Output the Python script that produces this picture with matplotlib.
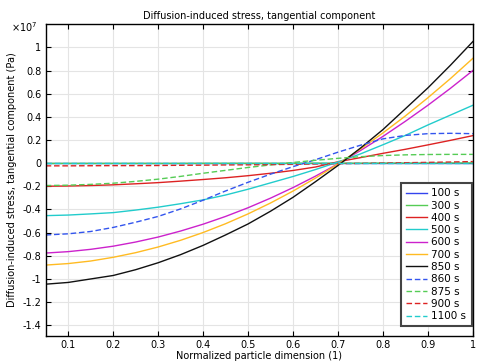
import matplotlib
matplotlib.use("Agg")
import matplotlib.pyplot as plt
from matplotlib.ticker import FuncFormatter

plt.rcParams['font.family'] = 'DejaVu Sans'
plt.rcParams['axes.unicode_minus'] = False

# normalized particle dimension
x = [0.05, 0.1, 0.15, 0.2, 0.25, 0.3, 0.35, 0.4, 0.45, 0.5,
     0.55, 0.6, 0.65, 0.7, 0.75, 0.8, 0.85, 0.9, 0.95, 1.0]

# tangential stress, units of 1e7 Pa
s100 = [0.0] * 20
s300 = [-0.002, -0.002, -0.002, -0.002, -0.002, -0.002, -0.002, -0.001, -0.001, -0.001,
        -0.001, -0.001, 0.0, 0.0, 0.0, 0.001, 0.001, 0.001, 0.002, 0.002]
s400 = [-0.199, -0.197, -0.193, -0.187, -0.178, -0.168, -0.155, -0.141, -0.126, -0.108,
        -0.087, -0.063, -0.033, 0.012, 0.048, 0.085, 0.12, 0.158, 0.197, 0.238]
s500 = [-0.453, -0.448, -0.438, -0.427, -0.405, -0.38, -0.35, -0.317, -0.275, -0.225,
        -0.17, -0.115, -0.055, 0.01, 0.08, 0.159, 0.24, 0.33, 0.415, 0.50]
s600 = [-0.776, -0.764, -0.744, -0.717, -0.681, -0.638, -0.586, -0.527, -0.460, -0.385,
        -0.302, -0.211, -0.112, -0.006, 0.109, 0.231, 0.362, 0.500, 0.646, 0.800]
s700 = [-0.880, -0.867, -0.845, -0.813, -0.773, -0.724, -0.666, -0.599, -0.523, -0.438,
        -0.344, -0.241, -0.129, -0.008, 0.122, 0.261, 0.408, 0.565, 0.730, 0.905]
s850 = [-1.045, -1.03, -1.00, -0.97, -0.92, -0.86, -0.79, -0.71, -0.62, -0.525,
        -0.415, -0.295, -0.16, -0.02, 0.13, 0.29, 0.47, 0.65, 0.845, 1.05]
s860 = [-0.62, -0.61, -0.59, -0.555, -0.51, -0.46, -0.395, -0.32, -0.24, -0.165,
        -0.095, -0.03, 0.03, 0.095, 0.155, 0.21, 0.24, 0.255, 0.258, 0.255]
s875 = [-0.193, -0.19, -0.183, -0.173, -0.157, -0.138, -0.114, -0.087, -0.062, -0.037,
        -0.015, 0.006, 0.025, 0.042, 0.056, 0.066, 0.072, 0.075, 0.076, 0.076]
s900 = [-0.023, -0.023, -0.022, -0.021, -0.021, -0.020, -0.018, -0.017, -0.015, -0.014,
        -0.012, -0.010, -0.007, -0.004, -0.002, 0.001, 0.004, 0.007, 0.010, 0.014]
s1100 = [0.0] * 20

series = [s100, s300, s400, s500, s600, s700, s850, s860, s875, s900, s1100]
labels = ['100 s', '300 s', '400 s', '500 s', '600 s', '700 s', '850 s',
          '860 s', '875 s', '900 s', '1100 s']
colors = ['#3344ee', '#55cc55', '#dd2222', '#22cccc', '#cc22cc', '#ffbb22', '#111111',
          '#3355ee', '#55cc55', '#dd2222', '#22cccc']
styles = ['-'] * 7 + ['--'] * 4

fig = plt.figure(figsize=(4.81, 3.63), dpi=100)
ax = fig.add_axes([0.095, 0.0752, 0.888, 0.858])

for y, lab, c, ls in zip(series, labels, colors, styles):
    if ls == '--':
        ax.plot(x, y, color=c, lw=1.0, ls=ls, dashes=(4, 2), label=lab)
    else:
        ax.plot(x, y, color=c, lw=1.0, ls=ls, label=lab)

ax.set_xlim(0.05, 1.0)
ax.set_ylim(-1.49, 1.2)
ax.set_xticks([0.1, 0.2, 0.3, 0.4, 0.5, 0.6, 0.7, 0.8, 0.9, 1.0])
ax.set_yticks([-1.4, -1.2, -1, -0.8, -0.6, -0.4, -0.2, 0, 0.2, 0.4, 0.6, 0.8, 1])
ax.xaxis.set_major_formatter(FuncFormatter(lambda v, p: f"{v:g}"))
ax.yaxis.set_major_formatter(FuncFormatter(lambda v, p: f"{v:g}"))
ax.tick_params(direction='in', top=True, right=True, labelsize=7, length=3.5, width=0.8, pad=3)
ax.grid(True, color='#e4e4e4', lw=0.8)
ax.set_axisbelow(True)
for sp in ax.spines.values():
    sp.set_linewidth(1.0)

ax.set_title('Diffusion-induced stress, tangential component', fontsize=7, pad=4)
ax.set_xlabel('Normalized particle dimension (1)', fontsize=7, labelpad=1)
ax.set_ylabel('Diffusion-induced stress, tangential component (Pa)', fontsize=7, labelpad=4)
fig.text(0.022, 0.912, r'$\times10^{7}$', fontsize=7)

leg = ax.legend(loc='lower right', bbox_to_anchor=(0.997, 0.03), fontsize=7.5,
                fancybox=False, framealpha=1, edgecolor='#444444',
                handlelength=2.0, handletextpad=0.45, labelspacing=0.22,
                borderpad=0.5, borderaxespad=0)
leg.get_frame().set_linewidth(1.5)

fig.savefig('out.png', dpi=100)
